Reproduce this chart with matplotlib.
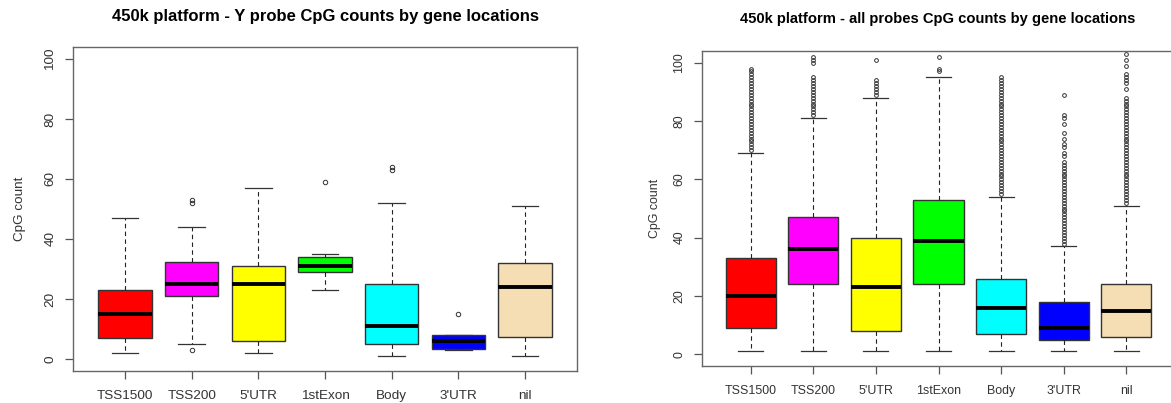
import matplotlib
matplotlib.use("Agg")
import matplotlib.pyplot as plt

plt.rcParams['font.family'] = ['Liberation Sans', 'DejaVu Sans']

locations = ["TSS1500", "TSS200", "5'UTR", "1stExon", "Body", "3'UTR", "nil"]
box_colors = ["#ff0000", "#ff00ff", "#ffff00", "#00ff00", "#00ffff", "#0000ff", "#f5deb3"]

# Y probes: five-number summaries
y_whislo = [2, 5, 2, 23, 1, 3, 1]
y_q1 = [7, 21, 6, 29, 5, 3.5, 7.5]
y_med = [15, 25, 25, 31, 11, 6, 24]
y_q3 = [23, 32.5, 31, 34, 25, 8, 32]
y_whishi = [47, 44, 57, 35, 52, 8, 51]
y_fliers = [[], [3, 52, 53], [], [59], [63, 64], [15], []]

# all probes: right panel
all_whislo = [1, 1, 1, 1, 1, 1, 1]
all_q1 = [9, 24, 8, 24, 7, 5, 6]
all_med = [20, 36, 23, 39, 16, 9, 15]
all_q3 = [33, 47, 40, 53, 26, 18, 24]
all_whishi = [69, 81, 88, 95, 54, 37, 51]
all_fliers = [
    [70, 71, 72, 73, 74, 75, 76, 77, 78, 79, 80, 81, 82, 83, 84, 85, 86, 87,
     88, 89, 90, 91, 92, 93, 94, 95, 96, 97, 98],
    [82, 83, 84, 85, 86, 87, 88, 89, 90, 91, 92, 93, 94, 95, 100, 101, 102],
    [89, 90, 91, 92, 93, 94, 101],
    [97, 98, 102],
    [55, 56, 57, 58, 59, 60, 61, 62, 63, 64, 65, 66, 67, 68, 69, 70, 71, 72,
     73, 74, 75, 76, 77, 78, 79, 80, 81, 82, 83, 84, 85, 86, 87, 88, 89, 90,
     91, 92, 93, 94, 95],
    [38, 39, 40, 41, 42, 43, 44, 45, 46, 47, 48, 49, 50, 51, 52, 53, 54, 55,
     56, 57, 58, 59, 60, 61, 62, 63, 64, 65, 66, 68, 69, 71, 72, 74, 76, 79,
     81, 82, 89],
    [52, 53, 54, 55, 56, 57, 58, 59, 60, 61, 62, 63, 64, 65, 66, 67, 68, 69,
     70, 71, 72, 73, 74, 75, 76, 77, 78, 79, 80, 81, 82, 83, 84, 85, 86, 87,
     88, 91, 93, 94, 95, 96, 99, 101, 103],
]

yticks = [0, 20, 40, 60, 80, 100]
W, H = 1171, 403


def stats(whislo, q1, med, q3, whishi, fliers):
    return [dict(whislo=a, q1=b, med=c, q3=d, whishi=e, fliers=f)
            for a, b, c, d, e, f in zip(whislo, q1, med, q3, whishi, fliers)]


def draw(ax, st, ylab_x, fs, msize):
    bp = ax.bxp(st, positions=range(1, 8), widths=0.8, capwidths=0.4,
                patch_artist=True, showfliers=True,
                boxprops=dict(edgecolor="#333333", linewidth=1.0),
                medianprops=dict(color="black", linewidth=2.8, solid_capstyle="butt"),
                whiskerprops=dict(color="#222222", linewidth=0.8, linestyle=(0, (4, 3))),
                capprops=dict(color="#333333", linewidth=0.9),
                flierprops=dict(marker="o", markerfacecolor="none",
                                markeredgecolor="#333333", markersize=msize,
                                markeredgewidth=0.7))
    for patch, c in zip(bp["boxes"], box_colors):
        patch.set_facecolor(c)
    ax.set_xlim(0.22, 7.78)
    ax.set_ylim(-4, 104)
    ax.set_xticks(range(1, 8))
    ax.set_xticklabels(locations)
    ax.set_yticks(yticks)
    ax.set_yticklabels([str(v) for v in yticks], rotation=90, va="center")
    ax.tick_params(axis="both", length=6, width=0.9, color="#555555",
                   labelcolor="#333333", labelsize=fs)
    ax.tick_params(axis="x", pad=8)
    ax.tick_params(axis="y", pad=6)
    for s in ax.spines.values():
        s.set_color("#666666")
        s.set_linewidth(1.0)
    ax.set_ylabel("CpG count", fontsize=fs, color="#333333")
    ax.yaxis.set_label_coords(ylab_x, 0.5)


fig = plt.figure(figsize=(W / 100, H / 100), dpi=100)

ax1 = fig.add_axes([73 / W, (H - 371) / H, 504 / W, 324 / H])
draw(ax1, stats(y_whislo, y_q1, y_med, y_q3, y_whishi, y_fliers),
     (26 - 73) / 504, 9.7, 3.2)

ax2 = fig.add_axes([702 / W, (H - 366) / H, 473 / W, 315 / H])
draw(ax2, stats(all_whislo, all_q1, all_med, all_q3, all_whishi, all_fliers),
     (661 - 702) / 473, 8.9, 2.7)

fig.text(326 / W, 1 - 17 / H, "450k platform - Y probe CpG counts by gene locations",
         ha="center", va="center", fontsize=12, fontweight="bold")
fig.text(938 / W, 1 - 19 / H, "450k platform - all probes CpG counts by gene locations",
         ha="center", va="center", fontsize=10.6, fontweight="bold")

fig.savefig("out.png", dpi=100)
